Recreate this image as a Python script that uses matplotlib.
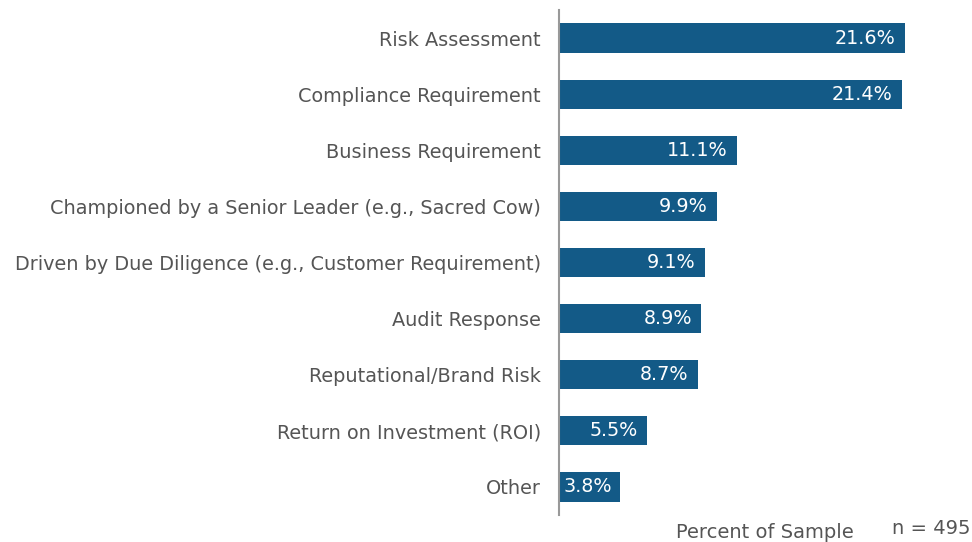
import matplotlib.pyplot as plt

categories = [
    "Risk Assessment",
    "Compliance Requirement",
    "Business Requirement",
    "Championed by a Senior Leader (e.g., Sacred Cow)",
    "Driven by Due Diligence (e.g., Customer Requirement)",
    "Audit Response",
    "Reputational/Brand Risk",
    "Return on Investment (ROI)",
    "Other",
]
values = [21.6, 21.4, 11.1, 9.9, 9.1, 8.9, 8.7, 5.5, 3.8]

plt.rcParams['font.family'] = ['DejaVu Sans']

fig = plt.figure(figsize=(9.72, 5.42), dpi=100)
ax = fig.add_axes([559 / 972, 27 / 542, 1 - 559 / 972, 505 / 542])

bar_color = "#135A87"
text_color = "#555555"
pos = range(len(categories))
ax.barh(pos, values, height=0.52, color=bar_color)

for i, v in enumerate(values):
    if v < 5:
        # too short for a right-aligned label, start it just off the axis
        ax.text(0.3, i, f"{v}%", ha="left", va="center",
                color="white", fontsize=13.8)
    else:
        ax.text(v - 0.6, i, f"{v}%", ha="right", va="center",
                color="white", fontsize=13.8)

ax.set_ylim(len(categories) - 0.5, -0.5)
ax.set_xlim(0, 25.8)
ax.set_yticks(list(pos))
ax.set_yticklabels(categories, fontsize=13.9, color=text_color)
ax.tick_params(axis="y", length=0, pad=13)
ax.set_xticks([])

for side in ["top", "right", "bottom"]:
    ax.spines[side].set_visible(False)
ax.spines["left"].set_color("#999999")
ax.spines["left"].set_linewidth(1.5)

fig.text(765 / 972, 1 - 533 / 542, "Percent of Sample", ha="center",
         va="center", fontsize=14, color=text_color)
fig.text(970 / 972, 1 - 528 / 542, "n = 495", ha="right",
         va="center", fontsize=14, color=text_color)

fig.savefig("out.png", dpi=100)
